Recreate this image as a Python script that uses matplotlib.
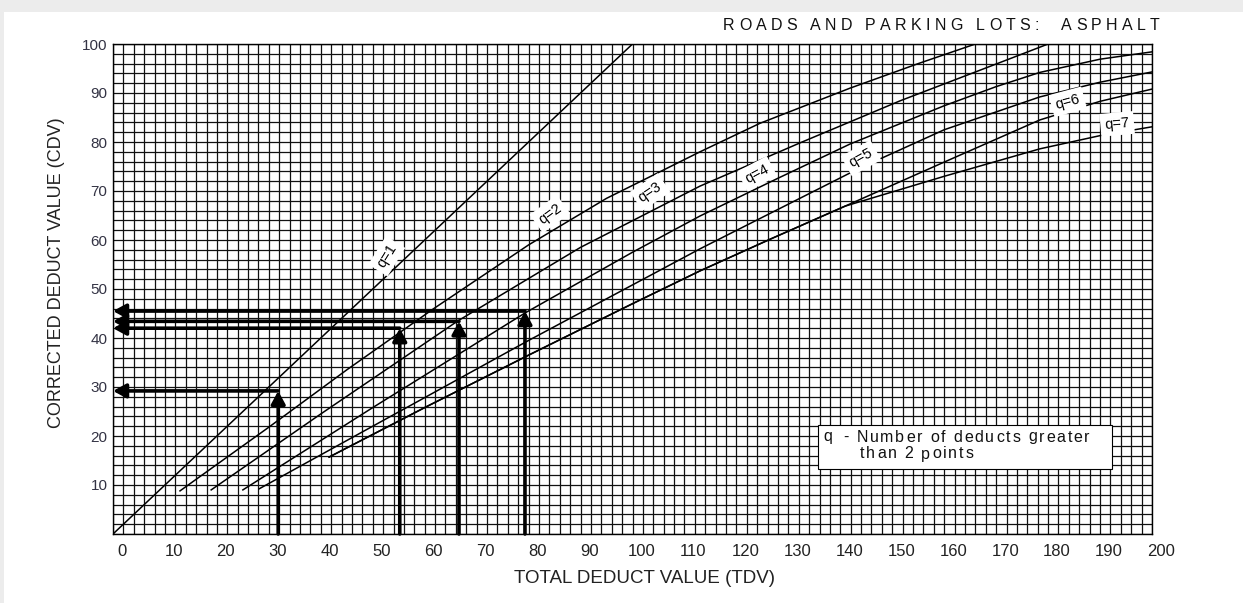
import matplotlib
matplotlib.use('Agg')
import matplotlib.pyplot as plt
from matplotlib.patches import Rectangle
from matplotlib.transforms import ScaledTranslation
import numpy as np

W, H = 1243, 603

# Axis ticks
tdv_ticks = list(range(0, 201, 10))
cdv_ticks = list(range(10, 101, 10))

# Correction curves, one per q (number of deducts greater than 2 points)
q1_tdv = [0, 100]
q1_cdv = [0, 100]
q2_tdv = [12.9, 30, 45, 61.6, 80, 95, 113.0, 124.5, 141.9, 155, 166.0]
q2_cdv = [8.8, 21.8, 33.5, 45.9, 59.0, 68.5, 78.0, 83.8, 91.0, 96.0, 100.0]
q3_tdv = [18.9, 40, 66.4, 90, 113.0, 132.2, 151.5, 170.7, 180.0]
q3_cdv = [9.0, 24.5, 43.5, 58.5, 71.0, 79.8, 88.4, 96.2, 100.0]
q4_tdv = [25.0, 50, 79.3, 100, 113.0, 128, 141.9, 160, 170, 178.4, 190, 200.0]
q4_cdv = [9.0, 25.8, 45.1, 57.5, 64.9, 72.6, 79.6, 87.4, 91.3, 94.2, 96.9, 98.4]
q5_tdv = [28.1, 50, 80, 113.0, 143.4, 160, 178.4, 190, 200.0]
q5_cdv = [9.2, 22.0, 39.5, 58.2, 74.5, 82.5, 89.2, 92.2, 94.3]
q6_tdv = [41.6, 60, 80, 100, 113.0, 127, 140.9, 160, 178.4, 190, 200.0]
q6_cdv = [15.7, 25.8, 36.5, 47.0, 53.7, 60.4, 66.9, 75.9, 84.5, 88.3, 90.8]
q7_tdv = [41.6, 60, 80, 100, 113.0, 127, 140.9, 160, 178.4, 190, 200.0]
q7_cdv = [15.7, 25.8, 36.5, 47.0, 53.7, 60.4, 66.9, 73.0, 78.6, 81.3, 83.1]

# Curve labels: position and angle
label_text = ['q=1', 'q=2', 'q=3', 'q=4', 'q=5', 'q=6', 'q=7']
label_tdv = [52.7, 84.1, 103.4, 124.0, 144.0, 183.8, 193.3]
label_cdv = [56.7, 65.3, 69.8, 73.5, 76.7, 88.2, 83.7]
label_rot = [58, 36, 34, 28, 29, 15, 5]

# Worked examples: TDV read up to the curve, CDV read across
example_tdv = [31.8, 55.2, 66.6, 79.3]
example_cdv = [29.2, 42.0, 43.4, 45.5]

curves = [(q1_tdv, q1_cdv), (q2_tdv, q2_cdv), (q3_tdv, q3_cdv), (q4_tdv, q4_cdv),
          (q5_tdv, q5_cdv), (q6_tdv, q6_cdv), (q7_tdv, q7_cdv)]

FONT = 'Liberation Sans'

fig = plt.figure(figsize=(W / 100, H / 100), dpi=100)
fig.patch.set_facecolor('white')
fig.patches.append(Rectangle((0, 1 - 12 / H), 1, 12 / H, transform=fig.transFigure,
                             facecolor='#ececec', edgecolor='none', zorder=0))
fig.patches.append(Rectangle((0, 0), 4 / W, 1, transform=fig.transFigure,
                             facecolor='#ececec', edgecolor='none', zorder=0))

ax = fig.add_axes([113 / W, 69 / H, 1039 / W, 490 / H])
ax.set_xlim(0, 200)
ax.set_ylim(0, 100)

ax.set_xticks(tdv_ticks)
ax.set_xticks(np.arange(0, 201, 2), minor=True)
ax.set_yticks(cdv_ticks)
ax.set_yticks(np.arange(0, 101, 2), minor=True)
ax.grid(which='both', color='#111111', linewidth=0.9, zorder=0)
ax.set_axisbelow(True)
ax.tick_params(which='both', length=0)
ax.tick_params(axis='x', pad=7, labelsize=12, labelcolor='#222222')
ax.tick_params(axis='y', pad=4, labelsize=11, labelcolor='#333344')
shift = ScaledTranslation(9 / 100, 0, fig.dpi_scale_trans)
for lab in ax.get_xticklabels():
    lab.set_fontfamily(FONT)
    lab.set_transform(lab.get_transform() + shift)
for lab in ax.get_yticklabels():
    lab.set_fontfamily(FONT)
for sp in ax.spines.values():
    sp.set_color('black')
    sp.set_linewidth(1.0)

for tdv, cdv in curves:
    ax.plot(tdv, cdv, color='black', linewidth=1.1, zorder=2)

for txt, x, y, r in zip(label_text, label_tdv, label_cdv, label_rot):
    ax.text(x, y, txt, rotation=r, rotation_mode='anchor', ha='center', va='center',
            fontsize=10.5, family=FONT, zorder=3,
            bbox=dict(boxstyle='square,pad=0.3', facecolor='white', edgecolor='none'))

arrow_style = '-|>,head_length=0.55,head_width=0.3'
for x, y in zip(example_tdv, example_cdv):
    ax.annotate('', xy=(x, y), xytext=(x, 0),
                arrowprops=dict(arrowstyle=arrow_style, color='black', lw=2.6,
                                mutation_scale=14, shrinkA=0, shrinkB=0), zorder=5)
    ax.annotate('', xy=(0, y), xytext=(x, y),
                arrowprops=dict(arrowstyle=arrow_style, color='black', lw=2.6,
                                mutation_scale=14, shrinkA=0, shrinkB=0), zorder=5)

# Explanation box for q
ax.add_patch(Rectangle((135.7, 13.3), 56.6, 9.0, facecolor='white', edgecolor='black',
                       linewidth=0.8, zorder=4))

ax.set_xlabel('TOTAL DEDUCT VALUE (TDV)', fontsize=13.5, family=FONT, color='#222222')
ax.xaxis.set_label_coords((644 - 113) / 1039, (534 - 570) / 490)
ax.set_ylabel('CORRECTED DEDUCT VALUE (CDV)', fontsize=13, family=FONT, color='#222222')
ax.yaxis.set_label_coords((65 - 113) / 1039, (534 - 273) / 490)

fig.canvas.draw()
renderer = fig.canvas.get_renderer()


def spaced_text(x_px, y_px, s, size, tracking, color='#111111'):
    """Draw s left to right from pixel x_px with extra letter spacing."""
    space = 0.278 * size * 100 / 72
    for ch in s:
        t = fig.text(x_px / W, 1 - y_px / H, ch, fontsize=size, family=FONT,
                     va='center', ha='left', color=color, zorder=6)
        w = t.get_window_extent(renderer).width if ch.strip() else space
        x_px += w + tracking


spaced_text(723, 25, 'ROADS AND PARKING LOTS:  ASPHALT', 11.5, 4.3)
spaced_text(823, 437, 'q', 11.5, 0)
spaced_text(843, 437, '- Number of deducts greater', 11.5, 1.8)
spaced_text(860, 454, 'than 2 points', 11.5, 1.8)

fig.savefig('out.png', dpi=100)
